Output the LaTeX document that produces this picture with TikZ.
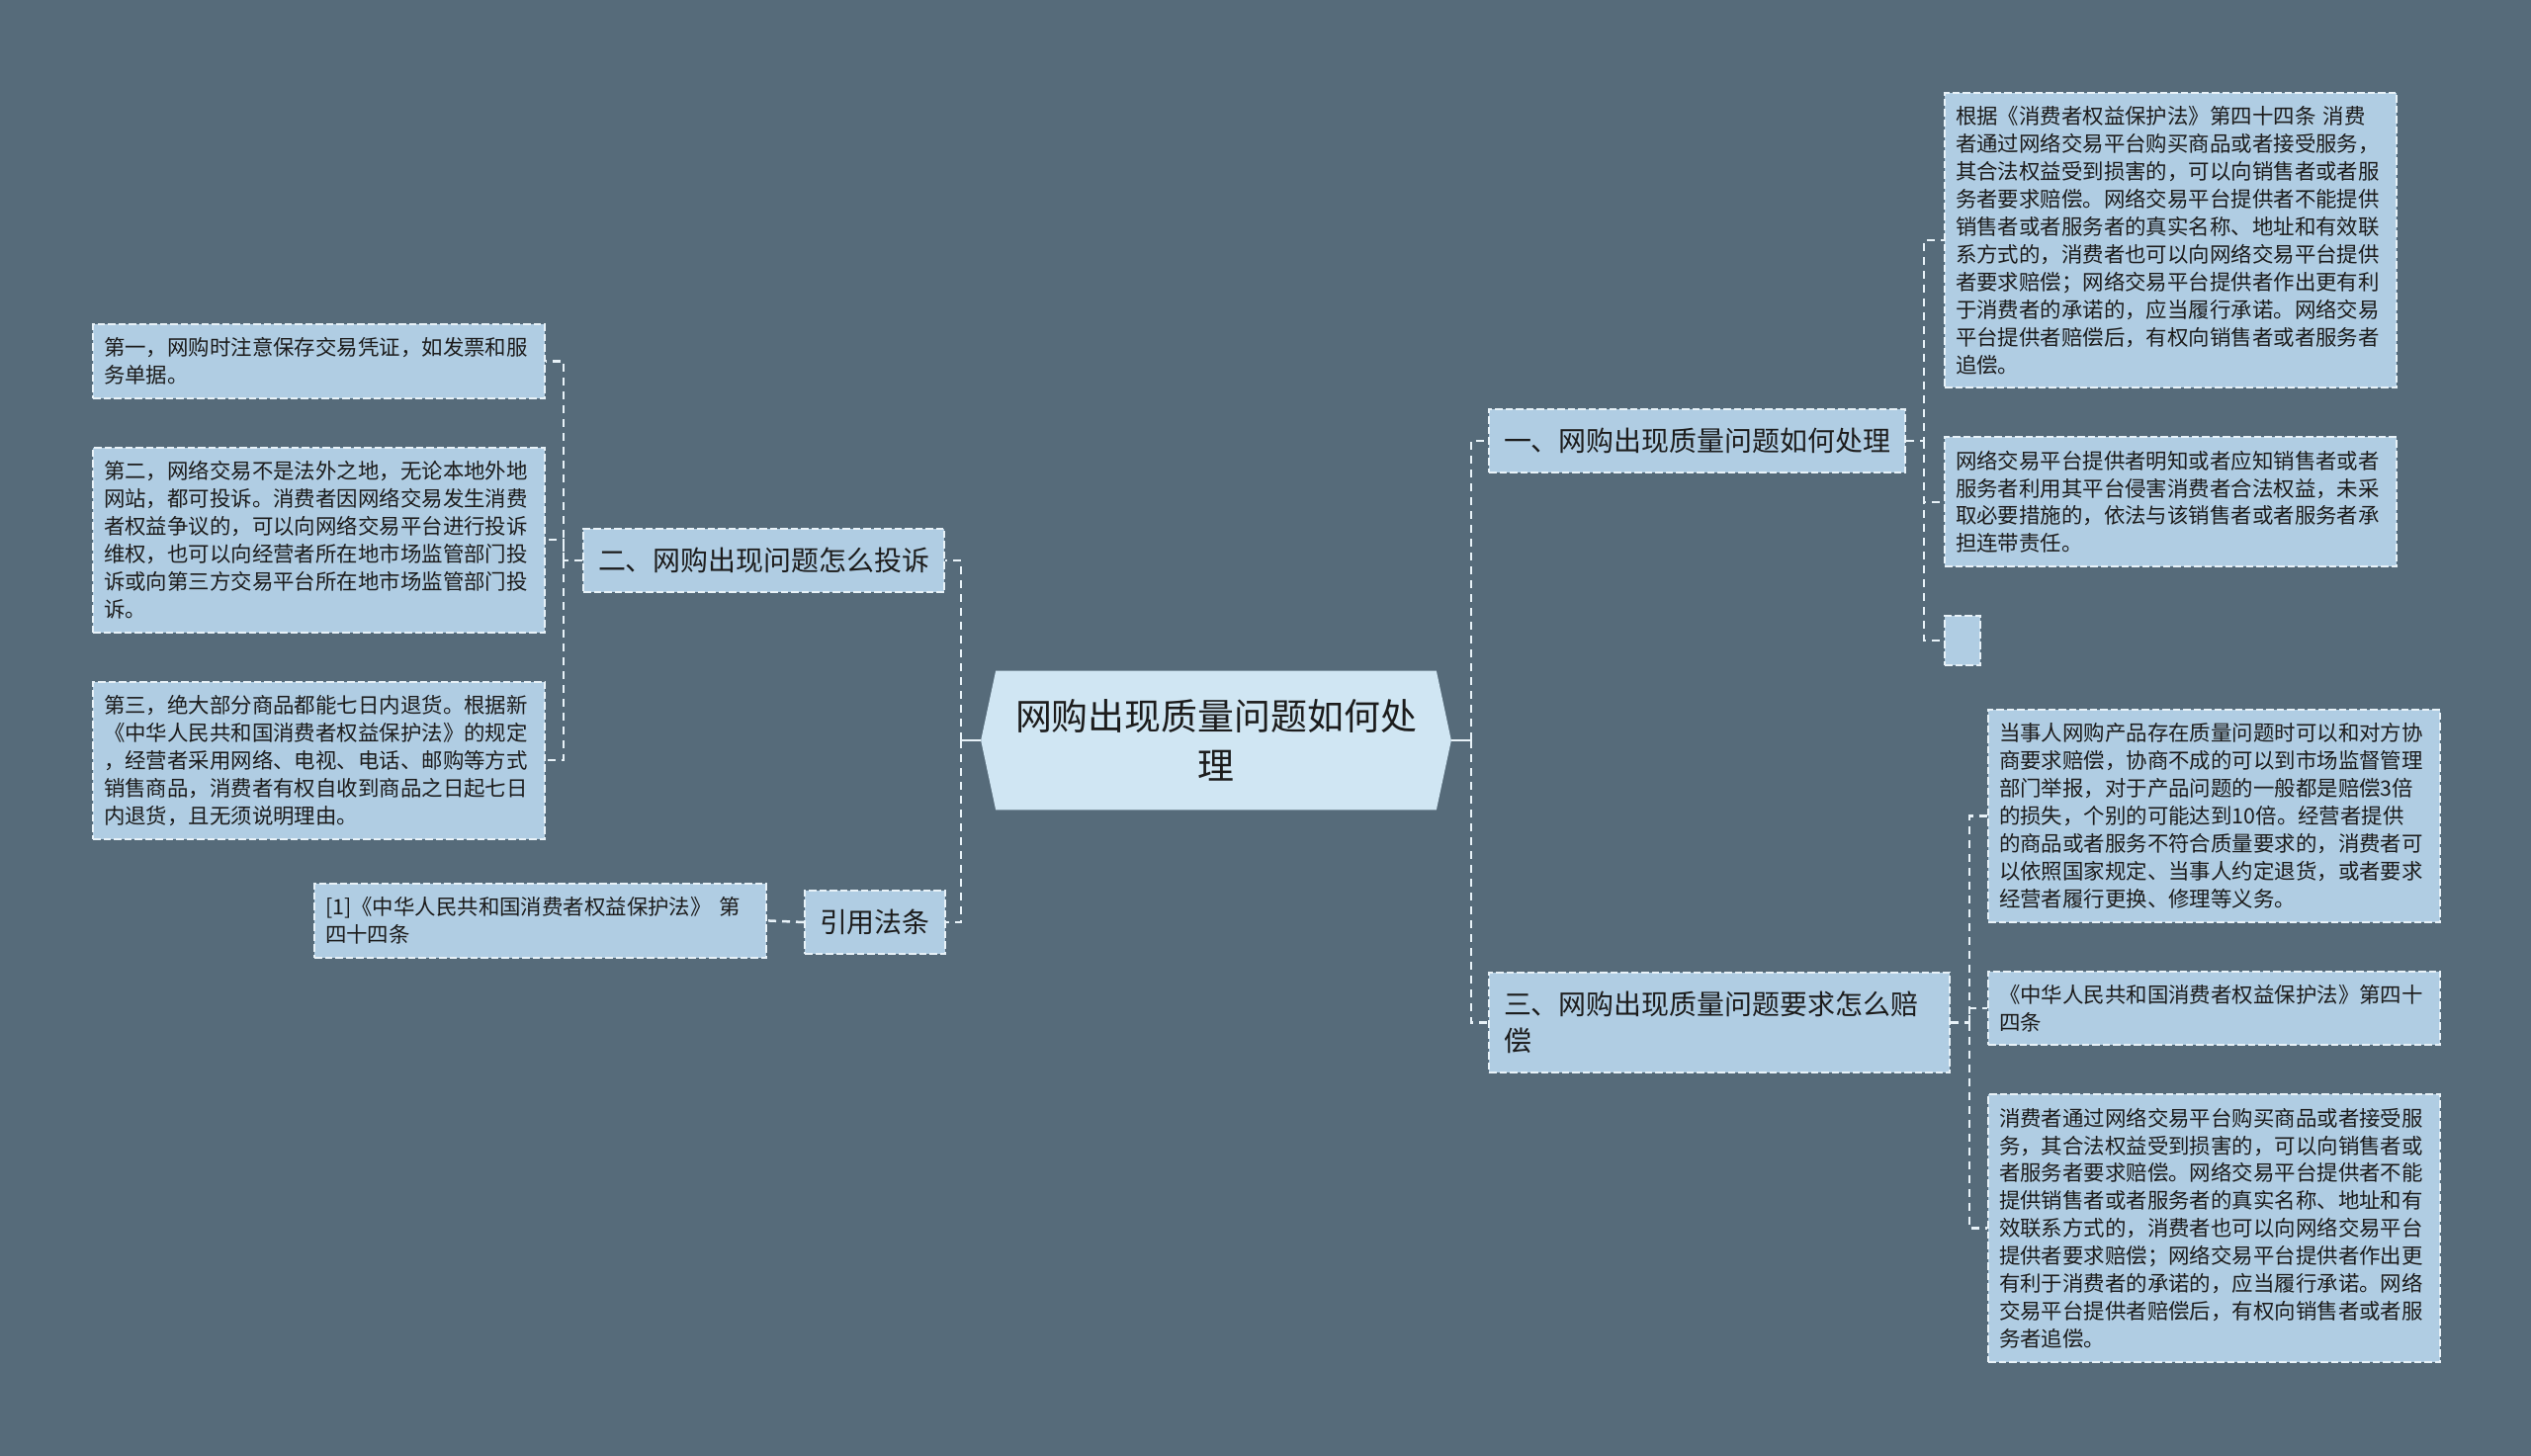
\documentclass[tikz,border=0pt]{standalone}
\usepackage{fontspec}
\setmainfont{Noto Sans CJK SC}
\usepackage{xcolor}
\definecolor{mapbg}{HTML}{566B7A}
\definecolor{mapbox}{HTML}{B0CDE3}
\definecolor{maproot}{HTML}{D0E6F3}
\definecolor{mapline}{HTML}{E8F2F8}
\definecolor{mapink}{HTML}{1C1C1C}
\usepackage{tikz}
\usetikzlibrary{positioning, backgrounds}
\newcommand\leaftext{\fontsize{12.2}{15.9}\selectfont}
\newcommand\topictext{\fontsize{15.9}{21.3}\selectfont}
\newcommand\roottext{\fontsize{21}{28.5}\selectfont}

\begin{document}
\begin{tikzpicture}[
  x=0.2mm, y=-0.2mm,
  node distance=9.6mm,
  box/.style={rectangle, fill=mapbox, draw=mapline, line width=0.4mm,
    dash pattern=on 1.5mm off 0.6mm, text=mapink},
  leaf/.style={box, inner xsep=2.2mm, inner ysep=2.7mm, text width=87mm,
    align=left, font=\leaftext},
  topic/.style={box, inner xsep=3mm, minimum height=12.8mm, align=left,
    font=\topictext},
  blank/.style={box, inner sep=0pt, minimum width=7.2mm, minimum height=10mm},
  core/.style={rectangle, minimum width=89mm, minimum height=28mm,
    align=center, font=\roottext, text=mapink},
  link/.style={draw=mapline, line width=0.5mm, dash pattern=on 1.6mm off 1.2mm},
  stem/.style={draw=mapline, line width=0.5mm}
]
\useasboundingbox (0,0) rectangle (2560,1473);

\node[core] (root) at (1230,749) {网购出现质量问题如何处\\理};
\coordinate (rootL) at ([xshift=-3mm]root.west);
\coordinate (rootR) at ([xshift=3mm]root.east);

\begin{scope}[on background layer]
  \fill[mapbg] (0,0) rectangle (2560,1473);
  \fill[maproot] (root.north west) -- (root.north east) -- (rootR)
    -- (root.south east) -- (root.south west) -- (rootL) -- cycle;
\end{scope}

\node[topic, anchor=north west] (complain) at (589,534) {二、网购出现问题怎么投诉};
\node[topic, anchor=north west] (cite) at (813,900) {引用法条};
\node[topic, anchor=north west] (handle) at (1505,413) {一、网购出现质量问题如何处理};
\node[topic, anchor=north west, text width=87.2mm, minimum height=20.2mm] (claim)
  at (1505,983) {三、网购出现质量问题要求怎么赔\\偿};

\node[leaf, anchor=north west] (tip1) at (93,327)
  {第一，网购时注意保存交易凭证，如发票和服\\务单据。};
\node[leaf, below=of tip1] (tip2)
  {第二，网络交易不是法外之地，无论本地外地\\网站，都可投诉。消费者因网络交易发生消费\\者权益争议的，可以向网络交易平台进行投诉\\维权，也可以向经营者所在地市场监管部门投\\诉或向第三方交易平台所在地市场监管部门投\\诉。};
\node[leaf, below=of tip2] (tip3)
  {第三，绝大部分商品都能七日内退货。根据新\\《中华人民共和国消费者权益保护法》的规定\\，经营者采用网络、电视、电话、邮购等方式\\销售商品，消费者有权自收到商品之日起七日\\内退货，且无须说明理由。};

\node[leaf, anchor=north west] (lawref) at (317,893)
  {[1]《中华人民共和国消费者权益保护法》 第\\四十四条};

\node[leaf, anchor=north west] (handle1) at (1966,93)
  {根据《消费者权益保护法》第四十四条 消费\\者通过网络交易平台购买商品或者接受服务，\\其合法权益受到损害的，可以向销售者或者服\\务者要求赔偿。网络交易平台提供者不能提供\\销售者或者服务者的真实名称、地址和有效联\\系方式的，消费者也可以向网络交易平台提供\\者要求赔偿；网络交易平台提供者作出更有利\\于消费者的承诺的，应当履行承诺。网络交易\\平台提供者赔偿后，有权向销售者或者服务者\\追偿。};
\node[leaf, below=of handle1] (handle2)
  {网络交易平台提供者明知或者应知销售者或者\\服务者利用其平台侵害消费者合法权益，未采\\取必要措施的，依法与该销售者或者服务者承\\担连带责任。};
\node[blank, below=of handle2.south west, anchor=north west] (handle3) {};

\node[leaf, anchor=north west] (claim1) at (2010,717)
  {当事人网购产品存在质量问题时可以和对方协\\商要求赔偿，协商不成的可以到市场监督管理\\部门举报，对于产品问题的一般都是赔偿3倍\\的损失，个别的可能达到10倍。经营者提供\\的商品或者服务不符合质量要求的，消费者可\\以依照国家规定、当事人约定退货，或者要求\\经营者履行更换、修理等义务。};
\node[leaf, below=of claim1] (claim2)
  {《中华人民共和国消费者权益保护法》第四十\\四条};
\node[leaf, below=of claim2] (claim3)
  {消费者通过网络交易平台购买商品或者接受服\\务，其合法权益受到损害的，可以向销售者或\\者服务者要求赔偿。网络交易平台提供者不能\\提供销售者或者服务者的真实名称、地址和有\\效联系方式的，消费者也可以向网络交易平台\\提供者要求赔偿；网络交易平台提供者作出更\\有利于消费者的承诺的，应当履行承诺。网络\\交易平台提供者赔偿后，有权向销售者或者服\\务者追偿。};

\draw[stem] (rootL) -- ++(-4mm,0) coordinate (trunkL);
\draw[stem] (rootR) -- ++(4mm,0) coordinate (trunkR);
\draw[link] (trunkL) |- (complain.east);
\draw[link] (trunkL) |- (cite.east);
\draw[link] (trunkR) |- (handle.west);
\draw[link] (trunkR) |- (claim.west);

\draw[link] (complain.west) -- ++(-3.8mm,0) coordinate (forkL) |- (tip1.east);
\draw[link] (forkL) |- (tip2.east);
\draw[link] (forkL) |- (tip3.east);
\draw[link] (cite.west) -- (lawref.east);

\draw[link] (handle.east) -- ++(3.6mm,0) coordinate (forkA) |- (handle1.west);
\draw[link] (forkA) |- (handle2.west);
\draw[link] (forkA) |- (handle3.west);

\draw[link] (claim.east) -- ++(3.8mm,0) coordinate (forkB) |- (claim1.west);
\draw[link] (forkB) |- (claim2.west);
\draw[link] (forkB) |- (claim3.west);
\end{tikzpicture}
\end{document}
